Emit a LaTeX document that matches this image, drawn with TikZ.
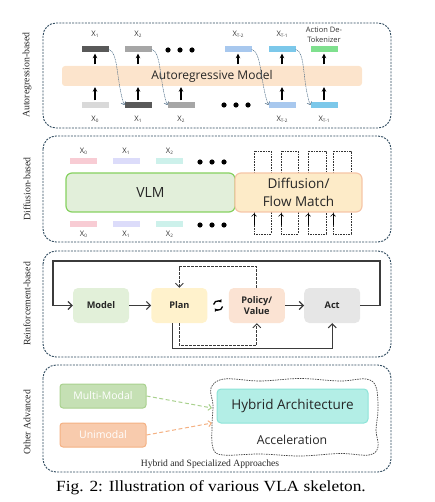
\documentclass[tikz,border=0pt]{standalone}
\usepackage{fontspec}
\setmainfont{Liberation Serif}
\setsansfont{Open Sans}
\newfontfamily\capfont[FakeStretch=1.12]{Liberation Serif}
\usetikzlibrary{arrows.meta, calc, positioning}

\definecolor{framecol}{HTML}{2E4A5E}
\definecolor{feedcol}{HTML}{4A6A85}
\definecolor{tokdark}{HTML}{595959}
\definecolor{tokmid}{HTML}{A6A6A6}
\definecolor{toklight}{HTML}{D9D9D9}
\definecolor{tokblueL}{HTML}{A8C8EE}
\definecolor{tokblue}{HTML}{7CC8EA}
\definecolor{tokgreen}{HTML}{7FE08E}
\definecolor{armfill}{HTML}{FCE4CC}
\definecolor{pinkc}{HTML}{F8CCD4}
\definecolor{lavc}{HTML}{DCDCFA}
\definecolor{mintc}{HTML}{CDF1EB}
\definecolor{vlmfill}{HTML}{E2EFDA}
\definecolor{vlmdraw}{HTML}{86D160}
\definecolor{dfmfill}{HTML}{FDEBC8}
\definecolor{dfmdraw}{HTML}{F6C6A8}
\definecolor{modelfill}{HTML}{E2F0D9}
\definecolor{planfill}{HTML}{FFF2CC}
\definecolor{policyfill}{HTML}{FBE3D3}
\definecolor{actfill}{HTML}{E6E6E6}
\definecolor{loopcol}{HTML}{3B3B3B}
\definecolor{mmfill}{HTML}{C5E0B4}
\definecolor{mmdraw}{HTML}{A9D18E}
\definecolor{unifill}{HTML}{F8CBAD}
\definecolor{unidraw}{HTML}{F4B183}
\definecolor{hybfill}{HTML}{B3EEE6}
\definecolor{hybdraw}{HTML}{8CE4D8}

% token name with a small subscript
\newcommand{\xsub}[1]{X\raisebox{-0.9pt}{\fontsize{4.6}{5}\selectfont #1}}

\tikzset{
    panel/.style={draw=framecol, line width=0.9pt, dash pattern=on 2pt off 1.2pt, rounded corners=13pt},
    sidelabel/.style={rotate=90, font=\fontsize{9.8}{10}\selectfont, text=black!85},
    tok/.style={minimum width=27pt, minimum height=6pt, inner sep=0pt},
    toklabel/.style={font=\sffamily\fontsize{7.6}{7.6}\selectfont, inner sep=0pt, text=black!80},
    upar/.style={-{Stealth[length=4.5pt,width=4.5pt]}, line width=1.2pt, shorten <=1.5pt, shorten >=1pt},
    feed/.style={-{Straight Barb[length=2.5pt,width=5pt]}, draw=feedcol, line width=0.5pt, dash pattern=on 1pt off 0.7pt},
    loopdot/.style={draw=black!80, line width=0.6pt, dash pattern=on 0.8pt off 0.8pt},
    rlbox/.style={minimum width=56pt, minimum height=35pt, rounded corners=5pt, inner sep=0pt,
        align=center, font=\sffamily\bfseries\fontsize{9.2}{11}\selectfont, text=black!85},
    rlarrow/.style={-{Straight Barb[length=4pt,width=8pt]}, draw=loopcol, line width=1.2pt},
    rldash/.style={-{Straight Barb[length=4pt,width=8pt]}, draw=loopcol, line width=0.9pt, dash pattern=on 2.5pt off 1.5pt},
    modbox/.style={minimum width=86pt, minimum height=24pt, rounded corners=3pt, line width=1pt,
        font=\sffamily\fontsize{10.5}{11}\selectfont, text=white},
}

\begin{document}
\begin{tikzpicture}[x=1pt, y=-1pt, >=Stealth]
    \useasboundingbox (0,0) rectangle (434,502);

    % === Autoregression-based ===
    \begin{scope}
        \draw[panel] (43,23) rectangle (391,128);
        \node[sidelabel] at (27,75) {Autoregression-based};

        % Model bar
        \node[fill=armfill, rounded corners=3pt, minimum width=300pt, minimum height=20pt,
            font=\sffamily\fontsize{12}{12}\selectfont, text=black!85] (arm) at (212,76) {Autoregressive Model};

        % Output tokens
        \node[tok, fill=tokdark] (t1) at (95,49.5) {};
        \node[tok, fill=tokmid] (t2) at (138,49.5) {};
        \node[tok, fill=tokblueL] (tT2) at (238,49.5) {};
        \node[tok, fill=tokblue] (tT1) at (282,49.5) {};
        \node[tok, fill=tokgreen] (tAct) at (324,49.5) {};
        \node[toklabel, above=8.5pt of t1] {\xsub{1}};
        \node[toklabel, above=8.5pt of t2] {\xsub{2}};
        \node[toklabel, above=8.5pt of tT2] {\xsub{T-2}};
        \node[toklabel, above=8.5pt of tT1] {\xsub{T-1}};
        \node[toklabel, align=center, font=\sffamily\fontsize{7.5}{10}\selectfont, above=4pt of tAct] {Action De-\\Tokenizer};
        \foreach \dx in {-12,0,12} \fill (180+\dx,50) circle (2.6);

        % Input tokens
        \node[tok, fill=toklight] (b0) at (95,105) {};
        \node[tok, fill=tokdark] (b1) at (138,105) {};
        \node[tok, fill=tokmid] (b2) at (181,105) {};
        \node[tok, fill=tokblueL] (bT2) at (282,105) {};
        \node[tok, fill=tokblue] (bT1) at (324,105) {};
        \node[toklabel, below=7.5pt of b0] {\xsub{0}};
        \node[toklabel, below=7.5pt of b1] {\xsub{1}};
        \node[toklabel, below=7.5pt of b2] {\xsub{2}};
        \node[toklabel, below=7.5pt of bT2] {\xsub{T-2}};
        \node[toklabel, below=7.5pt of bT1] {\xsub{T-1}};
        \foreach \dx in {-12,0,12} \fill (236+\dx,105) circle (2.6);

        % Arrows through the model
        \foreach \n in {b0,b1,b2,bT2,bT1}
            \draw[upar] (\n.north) -- (\n.north |- arm.south);
        \foreach \n in {t1,t2,tT2,tT1,tAct}
            \draw[upar] (arm.north -| \n) -- (\n.south);

        % Outputs fed back as inputs
        \foreach \a/\b in {t1/b1, t2/b2, tT2/bT2, tT1/bT1}
            \draw[feed] (\a.east) .. controls +(10,2) and +(-8,-22) .. (\b.west);
    \end{scope}

    % === Diffusion-based ===
    \begin{scope}
        \draw[panel] (43,136) rectangle (391,242);
        \node[sidelabel] at (27,189) {Diffusion-based};

        \node[tok, fill=pinkc] (d0) at (83.5,161) {};
        \node[tok, fill=lavc] (d1) at (126,161) {};
        \node[tok, fill=mintc] (d2) at (169.5,161) {};
        \node[toklabel, above=3.5pt of d0] {\xsub{0}};
        \node[toklabel, above=3.5pt of d1] {\xsub{1}};
        \node[toklabel, above=3.5pt of d2] {\xsub{2}};
        \foreach \dx in {-12,0,12} \fill (212+\dx,162) circle (2.6);

        \node[tok, fill=pinkc] (e0) at (83.5,224.5) {};
        \node[tok, fill=lavc] (e1) at (126,224.5) {};
        \node[tok, fill=mintc] (e2) at (169.5,224.5) {};
        \node[toklabel, below=3.5pt of e0] {\xsub{0}};
        \node[toklabel, below=3.5pt of e1] {\xsub{1}};
        \node[toklabel, below=3.5pt of e2] {\xsub{2}};
        \foreach \dx in {-12,0,12} \fill (212+\dx,225) circle (2.6);

        % Denoising loops
        \foreach \xa/\xb in {254/271, 281/298, 308/326, 333/351} {
            \draw[loopdot] (\xa,151) rectangle (\xb,234);
            \draw[-{Straight Barb[length=2.5pt,width=5pt]}, line width=0.6pt] (\xa,225) -- (\xa,213.5);
        }

        \node[fill=vlmfill, draw=vlmdraw, line width=1.2pt, rounded corners=6pt, minimum width=169pt, minimum height=39pt,
            font=\sffamily\fontsize{14}{14}\selectfont, text=black!85] (vlm) at (150.5,192.5) {VLM};
        \node[fill=dfmfill, draw=dfmdraw, line width=1.2pt, rounded corners=6pt, minimum width=127pt, minimum height=39pt,
            align=center, inner sep=0pt, font=\sffamily\fontsize{13.5}{18}\selectfont, text=black!85] (dfm) at (298.5,192.5) {Diffusion/\\Flow Match};
    \end{scope}

    % === Reinforcement-based ===
    \begin{scope}
        \draw[panel] (43,251) rectangle (391,357);
        \node[sidelabel] at (27,304) {Reinforcement-based};

        \node[rlbox, fill=modelfill] (model) at (101,305.5) {Model};
        \node[rlbox, fill=planfill, right=22pt of model] (plan) {Plan};
        \node[rlbox, fill=policyfill, right=21pt of plan] (policy) {Policy/\\Value};
        \node[rlbox, fill=actfill, right=19pt of policy] (act) {Act};

        \draw[rlarrow] (model.east) -- (plan.west);
        \draw[rlarrow] (policy.east) -- (act.west);

        % Outer loop back to the model
        \coordinate (loopR) at (380,261);
        \coordinate (loopL) at (53,261);
        \draw[rlarrow] (act.east) -| (loopR) -- (loopL) |- (model.west);

        % Plan <-> Policy/Value
        \draw[rldash] (policy.north) -- ++(0,-21) -| (plan.north);
        \draw[rldash] (plan.south) -- ++(0,22) -| (policy.south);
        \draw[rlarrow, line width=1pt] ([xshift=-7pt]plan.south) -- ++(0,25) -| (act.south);

        % Refresh sign
        \coordinate (sync) at ($(plan.east)!0.5!(policy.west)$);
        \draw[line width=1.3pt, -{Triangle[length=2.6pt,width=3.8pt]}] ($(sync)+(-4.5,-1)$) arc (190:320:4.5);
        \draw[line width=1.3pt, -{Triangle[length=2.6pt,width=3.8pt]}] ($(sync)+(4.5,1)$) arc (10:140:4.5);
    \end{scope}

    % === Other Advanced ===
    \begin{scope}
        \draw[panel] (43,365) rectangle (391,472);
        \node[sidelabel] at (27,422) {Other Advanced};

        \node[modbox, fill=mmfill, draw=mmdraw] (mm) at (103,396) {Multi-Modal};
        \node[modbox, fill=unifill, draw=unidraw] (uni) at (103,435) {Unimodal};

        % Wavy outline
        \draw[draw=black!75, line width=0.7pt, dash pattern=on 1.5pt off 1pt] plot[smooth cycle, tension=0.6] coordinates {
            (224,379) (260,381) (300,378.5) (340,381) (366,379) (376,387) (378,410) (376,430) (378,447)
            (369,455) (340,453.5) (300,456) (260,454) (223,455) (213,448) (212,425) (213,405) (211,388)};

        \node[fill=hybfill, draw=hybdraw, line width=1pt, rounded corners=4pt, minimum width=151pt, minimum height=34pt,
            font=\sffamily\fontsize{13.5}{14}\selectfont, text=black!85] (hyb) at (292.5,406) {Hybrid Architecture};
        \node[font=\sffamily\fontsize{12.3}{13}\selectfont, text=black!85] (acc) at (292,440) {Acceleration};

        \coordinate (mmTip) at (212,408);
        \coordinate (uniTip) at (212,423);
        \draw[draw=mmdraw, line width=1pt, dash pattern=on 4pt off 2.5pt, -{Straight Barb[length=3pt,width=6pt]}] (mm.east) -- (mmTip);
        \draw[draw=unidraw, line width=1pt, dash pattern=on 4pt off 2.5pt, -{Straight Barb[length=3pt,width=6pt]}] (uni.east) -- (uniTip);

        \node[font=\fontsize{9.6}{10}\selectfont, text=black!85] (hsa) at (210,464) {Hybrid and Specialized Approaches};
    \end{scope}

    % Caption
    \node[font=\capfont\fontsize{15.5}{16}\selectfont] (cap) at (211,488) {Fig. 2: Illustration of various VLA skeleton.};
\end{tikzpicture}
\end{document}
